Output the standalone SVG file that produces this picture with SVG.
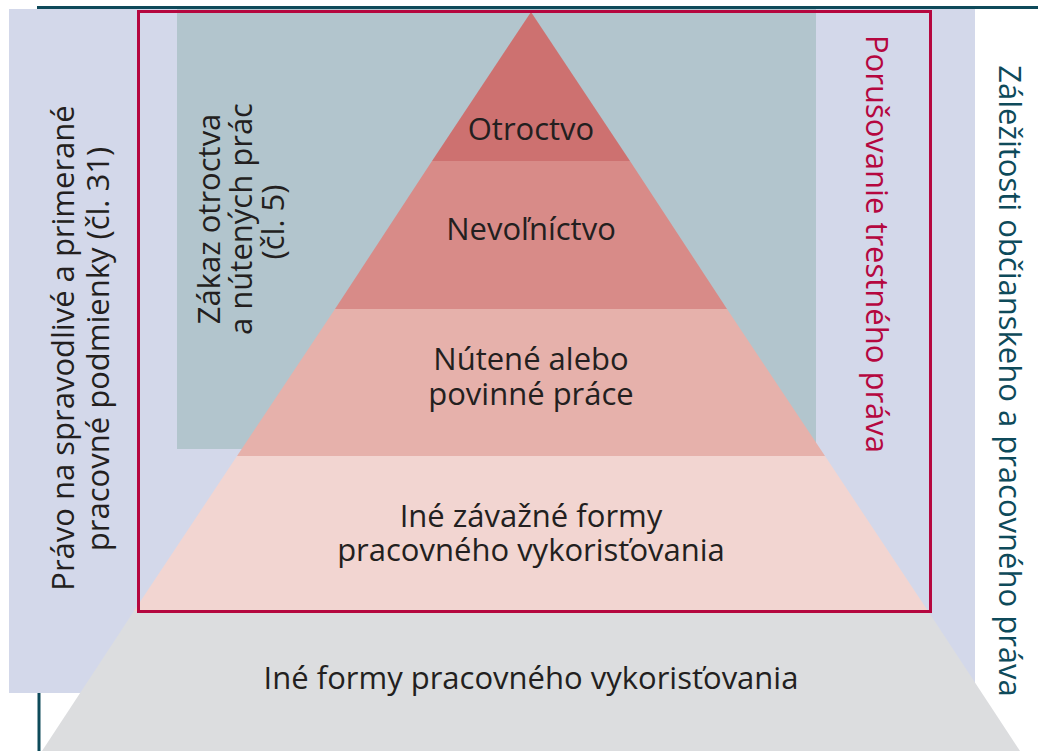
<svg xmlns="http://www.w3.org/2000/svg" width="1038" height="751" viewBox="0 0 1038 751">
<style>
text{font-family:"Open Sans","Noto Sans","Liberation Sans",sans-serif;font-size:31px;fill:#231f20}
.c{text-anchor:middle}
.crim{fill:#b5073f}
.teal{fill:#0e4a5a}
</style>
<rect x="0" y="0" width="1038" height="751" fill="#ffffff"/>
<g id="frame-lines">
<line x1="37" y1="7.5" x2="1038" y2="7.5" stroke="#0e4a5a" stroke-width="3"/>
<line x1="39" y1="7" x2="39" y2="751" stroke="#0e4a5a" stroke-width="3"/>
</g>
<g id="civil-labour-law">
<rect x="9" y="9" width="966" height="684" fill="#d3d8ea"/>
</g>
<g id="prohibition">
<rect x="177" y="9" width="639" height="440" fill="#b2c5cd"/>
</g>
<g id="level-slavery">
<polygon points="531,12 630,161 432,161" fill="#cd7170"/>
<text class="c" x="531" y="140">Otroctvo</text>
</g>
<g id="level-servitude">
<polygon points="432,161 630,161 727,309 335,309" fill="#d88b88"/>
<text class="c" x="531" y="240">Nevoľníctvo</text>
</g>
<g id="level-forced">
<polygon points="335,309 727,309 825,456 237,456" fill="#e6b1ab"/>
<text class="c" x="531" y="370">Nútené alebo</text>
<text class="c" x="531" y="405">povinné práce</text>
</g>
<g id="level-severe">
<polygon points="237,456 825,456 928,611 134,611" fill="#f2d5d1"/>
<text class="c" x="531" y="527">Iné závažné formy</text>
<text class="c" x="531" y="561">pracovného vykorisťovania</text>
</g>
<g id="level-other">
<polygon points="134,611 928,611 1020,751 42,751" fill="#dcdddf"/>
<text class="c" x="531" y="689">Iné formy pracovného vykorisťovania</text>
</g>
<g id="criminal-law">
<rect x="138.5" y="11.5" width="792" height="600" fill="none" stroke="#b5073f" stroke-width="3"/>
<text class="c crim" transform="translate(866,244) rotate(90)">Porušovanie trestného práva</text>
</g>
<g id="fair-conditions-label">
<text class="c" transform="translate(74,348) rotate(-90)">Právo na spravodlivé a primerané</text>
<text class="c" transform="translate(109,349) rotate(-90)">pracovné podmienky (čl. 31)</text>
</g>
<g id="prohibition-label">
<text class="c" transform="translate(220,219) rotate(-90)">Zákaz otroctva</text>
<text class="c" transform="translate(252,219) rotate(-90)">a nútených prác</text>
<text class="c" transform="translate(284,222) rotate(-90)">(čl. 5)</text>
</g>
<g id="civil-labour-label">
<text class="c teal" transform="translate(999,381) rotate(90)">Záležitosti občianskeho a pracovného práva</text>
</g>
<g id="connectors"/>
</svg>
